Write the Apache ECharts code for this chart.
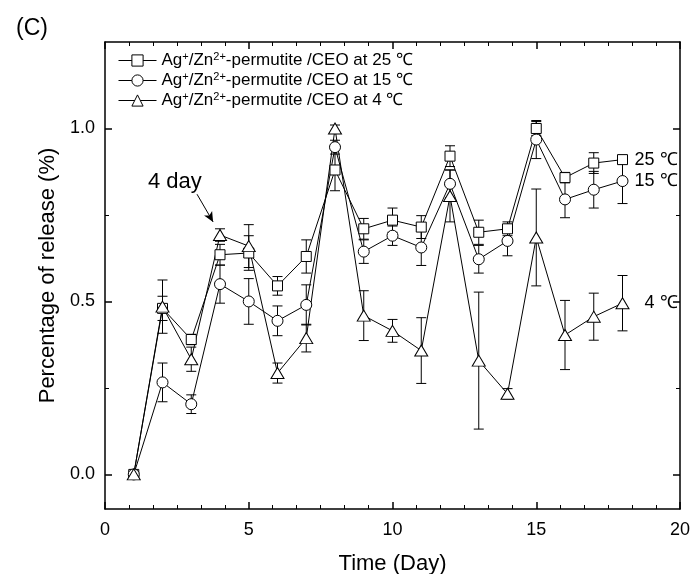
<!DOCTYPE html>
<html>
<head>
<meta charset="UTF-8">
<title>release</title>
<script src="https://cdn.jsdelivr.net/npm/echarts@6/dist/echarts.min.js"></script>
<style>
  body, html { margin: 0; padding: 0; background: #fff; }
  #main { width: 691px; height: 574px; }
</style>
</head>
<body>
<div id="main"></div>
<script>
// 数据
var days = [1, 2, 3, 4, 5, 6, 7, 8, 9, 10, 11, 12, 13, 14, 15, 16, 17, 18];
var release25 = [0, 0.48, 0.39, 0.635, 0.64, 0.545, 0.63, 0.88, 0.71, 0.735, 0.715, 0.92, 0.70, 0.71, 1.0, 0.858, 0.90, 0.91];
var err25 = [0, 0.035, 0.015, 0.03, 0.05, 0.027, 0.048, 0.06, 0.03, 0.035, 0.033, 0.03, 0.035, 0.02, 0.02, 0.015, 0.03, 0.012];
var release15 = [0, 0.266, 0.203, 0.55, 0.50, 0.444, 0.49, 0.946, 0.644, 0.69, 0.656, 0.84, 0.622, 0.675, 0.968, 0.795, 0.823, 0.848];
var err15 = [0, 0.056, 0.027, 0.055, 0.066, 0.043, 0.058, 0.02, 0.034, 0.028, 0.052, 0.04, 0.04, 0.043, 0.055, 0.053, 0.053, 0.065];
var release4 = [0, 0.485, 0.333, 0.692, 0.66, 0.293, 0.394, 1.0, 0.459, 0.415, 0.358, 0.805, 0.329, 0.233, 0.685, 0.403, 0.456, 0.495];
var err4 = [0, 0.077, 0.035, 0.018, 0.062, 0.029, 0.04, 0.01, 0.072, 0.033, 0.095, 0.075, 0.198, 0.015, 0.14, 0.1, 0.068, 0.08];
var yMajor = [0, 0.5, 1.0];
var yMinor = [0.25, 0.75];

var FONT = '"Liberation Sans", Arial, sans-serif';

function pairs(v) {
    return days.map(function (d, i) { return [d, v[i]]; });
}
function errData(v, e) {
    return days.map(function (d, i) { return [d, v[i], e[i]]; });
}
// 误差棒
function errorBar(params, api) {
    var x = api.value(0), y = api.value(1), e = api.value(2);
    if (!e) return;
    var top = api.coord([x, y + e]);
    var bot = api.coord([x, y - e]);
    var w = 5;
    var st = { stroke: '#000', lineWidth: 1 };
    return {
        type: 'group',
        children: [
            { type: 'line', shape: { x1: top[0], y1: top[1], x2: bot[0], y2: bot[1] }, style: st },
            { type: 'line', shape: { x1: top[0] - w, y1: top[1], x2: top[0] + w, y2: top[1] }, style: st },
            { type: 'line', shape: { x1: bot[0] - w, y1: bot[1], x2: bot[0] + w, y2: bot[1] }, style: st }
        ]
    };
}

var legendText = {
    s25: 'Ag{sup|+}/Zn{sup|2+}-permutite /CEO at 25 ℃',
    s15: 'Ag{sup|+}/Zn{sup|2+}-permutite /CEO at 15 ℃',
    s4: 'Ag{sup|+}/Zn{sup|2+}-permutite /CEO at 4 ℃'
};

var axisBase = {
    axisLine: { show: true, onZero: false, lineStyle: { color: '#000', width: 1.5 } },
    splitLine: { show: false }
};

function lineSeries(name, v, symbol, size, label, dist, extra) {
    var s = {
        name: name,
        type: 'line',
        data: pairs(v),
        symbol: symbol,
        symbolSize: size,
        showAllSymbol: true,
        z: 3,
        lineStyle: { color: '#000', width: 1 },
        itemStyle: { color: '#fff', borderColor: '#000', borderWidth: 1 },
        endLabel: { show: true, formatter: label, distance: dist, fontSize: 18, color: '#000', fontFamily: FONT },
        emphasis: { disabled: true }
    };
    for (var k in extra) s[k] = extra[k];
    return s;
}

var myChart = echarts.init(document.getElementById('main'));
var option = {
    animation: false,
    title: {
        text: '(C)', left: 11, top: 12,
        textStyle: { fontSize: 23, fontWeight: 'normal', color: '#000', fontFamily: FONT }
    },
    legend: {
        data: ['s25', 's15', 's4'],
        orient: 'vertical',
        left: 113, top: 46,
        itemWidth: 38, itemHeight: 14, itemGap: 2,
        itemStyle: { color: '#fff', borderColor: '#000', borderWidth: 1 },
        lineStyle: { color: '#000', width: 1 },
        formatter: function (n) { return legendText[n]; },
        textStyle: {
            fontSize: 17, color: '#000', fontFamily: FONT,
            rich: { sup: { fontSize: 11, padding: [0, 0, 8, 0], fontFamily: FONT } }
        },
        selectedMode: false
    },
    grid: { left: 105, right: 11, top: 42, bottom: 65, containLabel: false, outerBoundsMode: 'none' },
    xAxis: [
        Object.assign({}, axisBase, {
            type: 'value', min: 0, max: 20, interval: 5, position: 'bottom',
            axisTick: { inside: true, length: 7, lineStyle: { color: '#000', width: 1.5 } },
            minorTick: { show: true, splitNumber: 6, length: 4, lineStyle: { color: '#000', width: 1 } },
            axisLabel: { fontSize: 18, color: '#000', margin: 12, fontFamily: FONT },
            name: 'Time (Day)', nameLocation: 'middle', nameGap: 44,
            nameTextStyle: { fontSize: 22, color: '#000', fontFamily: FONT }
        }),
        Object.assign({}, axisBase, {
            type: 'value', min: 0, max: 20, interval: 5, position: 'top',
            axisTick: { inside: true, length: 7, lineStyle: { color: '#000', width: 1.5 } },
            minorTick: { show: true, splitNumber: 6, length: 4, lineStyle: { color: '#000', width: 1 } },
            axisLabel: { show: false }
        })
    ],
    yAxis: [
        Object.assign({}, axisBase, {
            type: 'value', min: -0.1, max: 1.25, position: 'left',
            axisTick: { inside: true, length: 7, customValues: yMajor, lineStyle: { color: '#000', width: 1.5 } },
            axisLabel: {
                customValues: yMajor, fontSize: 18, color: '#000', margin: 10, fontFamily: FONT,
                formatter: function (v) { return v.toFixed(1); }
            },
            name: 'Percentage of release (%)', nameLocation: 'middle', nameGap: 46,
            nameTextStyle: { fontSize: 22, color: '#000', fontFamily: FONT }
        }),
        Object.assign({}, axisBase, {
            type: 'value', min: -0.1, max: 1.25, position: 'right',
            axisTick: { inside: true, length: 7, customValues: yMajor, lineStyle: { color: '#000', width: 1.5 } },
            axisLabel: { show: false }
        }),
        {
            type: 'value', min: -0.1, max: 1.25, position: 'left',
            axisLine: { show: false, onZero: false }, splitLine: { show: false }, axisLabel: { show: false },
            axisTick: { inside: true, length: 4, customValues: yMinor, lineStyle: { color: '#000', width: 1 } }
        },
        {
            type: 'value', min: -0.1, max: 1.25, position: 'right',
            axisLine: { show: false, onZero: false }, splitLine: { show: false }, axisLabel: { show: false },
            axisTick: { inside: true, length: 4, customValues: yMinor, lineStyle: { color: '#000', width: 1 } }
        }
    ],
    series: [
        { type: 'custom', renderItem: errorBar, data: errData(release25, err25), encode: { x: 0, y: 1 }, z: 2, silent: true },
        { type: 'custom', renderItem: errorBar, data: errData(release15, err15), encode: { x: 0, y: 1 }, z: 2, silent: true },
        { type: 'custom', renderItem: errorBar, data: errData(release4, err4), encode: { x: 0, y: 1 }, z: 2, silent: true },
        lineSeries('s25', release25, 'rect', 10, '25 ℃', 12, {}),
        lineSeries('s15', release15, 'circle', 11, '15 ℃', 12, {}),
        lineSeries('s4', release4, 'triangle', [13, 11], '4 ℃', 22, {
            markLine: {
                silent: true,
                symbol: ['none', 'arrow'],
                symbolSize: [7, 10],
                lineStyle: { color: '#000', width: 1, type: 'solid' },
                label: { show: false },
                data: [[{ coord: [3.2, 0.81] }, { coord: [3.76, 0.73] }]]
            },
            markPoint: {
                silent: true,
                symbol: 'circle', symbolSize: 1,
                itemStyle: { color: 'rgba(0,0,0,0)', borderWidth: 0 },
                label: { show: true, position: 'inside', formatter: '4 day', fontSize: 22, color: '#000', fontFamily: FONT },
                data: [{ coord: [2.43, 0.845] }]
            }
        })
    ]
};
myChart.setOption(option);
</script>
</body>
</html>
